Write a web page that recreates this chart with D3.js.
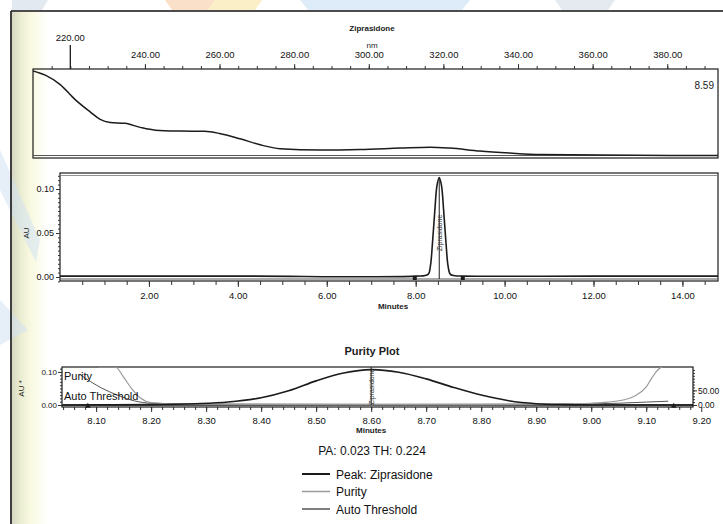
<!DOCTYPE html>
<html>
<head>
<meta charset="utf-8">
<script src="https://cdn.jsdelivr.net/npm/d3@7"></script>
<style>
  body { margin: 0; background: #fff; }
  svg { display: block; font-family: 'Liberation Sans Narrow', 'Liberation Sans', Arial, sans-serif; }
  .tick text { fill: #111; }
  .tick line { stroke: #333; }
</style>
</head>
<body>
<svg></svg>
<script>
// ---- data ----
// UV spectrum at the peak apex (nm, relative absorbance)
const spectrumNm  = [210, 213.3, 217.3, 221.3, 225.4, 228, 230.7, 234.7, 238.7, 242.8, 249.5, 256, 260, 265.5, 270.9, 276.2, 287, 297.6, 308.4, 316.4, 321.7, 329.8, 337.8, 345.8, 361.9, 393.6]
const spectrumAbs = [0.99, 0.94, 0.83, 0.655, 0.51, 0.425, 0.39, 0.38, 0.333, 0.30, 0.29, 0.287, 0.262, 0.2, 0.13, 0.085, 0.069, 0.075, 0.092, 0.103, 0.092, 0.057, 0.034, 0.017, 0.011, 0.006]
const spectrumTicks = [220, 240, 260, 280, 300, 320, 340, 360, 380]
const lambdaMax = 220

// chromatogram (minutes, AU)
const chromMin = [0, 4, 7.98, 8.28, 8.33, 8.38, 8.43, 8.48, 8.53, 8.58, 8.63, 8.68, 8.73, 8.78, 8.88, 9.08, 12, 14.8]
const chromAU  = [0.001, 0.001, 0.001, 0.003, 0.012, 0.040, 0.075, 0.104, 0.113, 0.104, 0.075, 0.040, 0.012, 0.003, 0.0015, 0.001, 0.001, 0.001]
const chromTicks = [2, 4, 6, 8, 10, 12, 14]
const chromYTicks = [0, 0.05, 0.10]
const peakApex = 8.53
const peakMarks = [7.98, 9.06]

// purity plot
const purityMin    = [8.04, 8.2, 8.28, 8.34, 8.4, 8.45, 8.5, 8.55, 8.6, 8.65, 8.7, 8.75, 8.8, 8.85, 8.9, 8.95, 9.0, 9.185]
const purityPeakAU = [0.000, 0.001, 0.004, 0.009, 0.022, 0.043, 0.073, 0.097, 0.107, 0.099, 0.079, 0.053, 0.030, 0.013, 0.004, 0.001, 0.000, 0.000]
const angleMin = [8.105, 8.135, 8.15, 8.165, 8.18, 8.2, 8.25, 8.4, 8.6, 8.8, 8.95, 9.0, 9.03, 9.06, 9.08, 9.1, 9.11, 9.12, 9.13]
const angle    = [130, 130, 95, 55, 25, 8, 3, 2, 1.5, 1.5, 3, 6, 10, 18, 32, 62, 92, 118, 132]
const thresholdMin = [8.07, 8.09, 8.11, 8.14, 8.17, 8.2, 8.3, 8.6, 8.9, 9.0, 9.05, 9.1, 9.14]
const threshold    = [105, 80, 58, 33, 14, 6, 3, 2.5, 3, 4, 6, 10, 13]
const purityTicks = [8.1, 8.2, 8.3, 8.4, 8.5, 8.6, 8.7, 8.8, 8.9, 9.0, 9.1, 9.2]
const purityYTicks = [0, 0.10]
const angleTicks = [0, 50]
const purityApex = 8.6
const purityMarks = [8.085, 9.15]

const PA = '0.023', TH = '0.224'
const legendItems = ['Peak: Ziprasidone', 'Purity', 'Auto Threshold']
const legendColors = ['#1a1a1a', '#9a9a9a', '#555']

// ---- drawing ----
const W = 723, H = 524
const svg = d3.select('svg').attr('width', W).attr('height', H)
const defs = svg.append('defs')
const f2 = d3.format('.2f')
const ink = '#1c1c1c'

// scanned page look: beige strip at the left edge
const grad = defs.append('linearGradient').attr('id', 'strip')
grad.selectAll('stop')
  .data([['0%', '#d6d8c3'], ['25%', '#eceed2'], ['55%', '#f9fae2'], ['100%', '#ffffff']])
  .join('stop').attr('offset', d => d[0]).attr('stop-color', d => d[1])
svg.append('rect').attr('x', 12).attr('y', 12).attr('width', 36).attr('height', H).attr('fill', 'url(#strip)')

// faint watermark shapes
const wm = svg.append('g').attr('opacity', 0.55)
wm.append('polygon').attr('points', '12,0 48,0 42,10 12,10').attr('fill', '#cdd8e4')
wm.append('polygon').attr('points', '165,0 215,0 208,10 172,10').attr('fill', '#f7c89c')
wm.append('polygon').attr('points', '215,0 262,0 255,10 208,10').attr('fill', '#f8e39a')
wm.append('polygon').attr('points', '300,0 470,0 462,10 308,10').attr('fill', '#c4dcf3')
wm.append('polygon').attr('points', '555,0 615,0 608,10 562,10').attr('fill', '#cfd9e6')
wm.append('polygon').attr('points', '0,150 40,240 36,262 0,190').attr('fill', '#d2e2f2')
wm.append('polygon').attr('points', '0,300 28,330 0,345').attr('fill', '#d2e2f2')

// page frame
svg.append('line').attr('x1', 11).attr('x2', W).attr('y1', 11).attr('y2', 11).attr('stroke', '#111').attr('stroke-width', 1.6)
svg.append('line').attr('x1', 11).attr('x2', 11).attr('y1', 11).attr('y2', H).attr('stroke', '#111').attr('stroke-width', 1.6)

function box(g, x0, x1, y0, y1) {
  g.append('rect').attr('x', x0).attr('y', y0).attr('width', x1 - x0).attr('height', y1 - y0)
    .attr('fill', 'none').attr('stroke', ink).attr('stroke-width', 1.2)
}
function clip(id, x0, x1, y0, y1) {
  defs.append('clipPath').attr('id', id).append('rect')
    .attr('x', x0).attr('y', y0).attr('width', x1 - x0).attr('height', y1 - y0)
}
function styleAxis(g, size) {
  g.select('.domain').remove()
  g.selectAll('.tick text').attr('font-size', size)
}

// ===== panel 1: spectrum =====
const p1 = { l: 33, r: 718, t: 69, b: 158 }
const xs = d3.scaleLinear().domain([210, 393.6]).range([p1.l, p1.r])
const ys = d3.scaleLinear().domain([0, 1]).range([156, p1.t + 1])
const g1 = svg.append('g')
clip('c1', p1.l, p1.r, p1.t, p1.b)

g1.append('text').attr('x', 372).attr('y', 31).attr('text-anchor', 'middle')
  .attr('font-size', 8).attr('font-weight', 'bold').attr('fill', ink).text('Ziprasidone')
g1.append('text').attr('x', 372).attr('y', 48).attr('text-anchor', 'middle')
  .attr('font-size', 8).attr('fill', ink).text('nm')

g1.append('g').attr('transform', `translate(0,${p1.t})`)
  .call(d3.axisTop(xs).tickValues(d3.range(215, 394, 5)).tickSize(3).tickFormat(''))
  .call(g => g.select('.domain').remove())
g1.append('g').attr('transform', `translate(0,${p1.t})`)
  .call(d3.axisTop(xs).tickValues(spectrumTicks.filter(d => d !== lambdaMax)).tickSize(5).tickPadding(6).tickFormat(f2))
  .call(g => styleAxis(g, 9.5))
g1.append('line').attr('x1', xs(lambdaMax)).attr('x2', xs(lambdaMax)).attr('y1', 45).attr('y2', p1.t)
  .attr('stroke', ink).attr('stroke-width', 1.3)
g1.append('text').attr('x', xs(lambdaMax)).attr('y', 41).attr('text-anchor', 'middle')
  .attr('font-size', 9.5).attr('fill', '#111').text(f2(lambdaMax))

box(g1, p1.l, p1.r, p1.t, p1.b)
g1.append('line').attr('x1', p1.l).attr('x2', p1.r).attr('y1', p1.b - 2.5).attr('y2', p1.b - 2.5)
  .attr('stroke', '#555').attr('stroke-width', 1)
g1.append('path').datum(spectrumNm.map((d, i) => [d, spectrumAbs[i]]))
  .attr('clip-path', 'url(#c1)')
  .attr('fill', 'none').attr('stroke', ink).attr('stroke-width', 1.5)
  .attr('d', d3.line().x(d => xs(d[0])).y(d => ys(d[1])).curve(d3.curveMonotoneX))
g1.append('text').attr('x', 714).attr('y', 89).attr('text-anchor', 'end')
  .attr('font-size', 10).attr('fill', ink).text('8.59')

// ===== panel 2: chromatogram =====
const p2 = { l: 60, r: 718, t: 173, b: 281 }
const xc = d3.scaleLinear().domain([0, 14.8]).range([p2.l, p2.r])
const yc = d3.scaleLinear().domain([0, 0.10]).range([277, 189])
const g2 = svg.append('g')
clip('c2', p2.l, p2.r, p2.t, p2.b)

box(g2, p2.l, p2.r, p2.t, p2.b)
g2.append('line').attr('x1', p2.l).attr('x2', p2.r).attr('y1', p2.t + 2.5).attr('y2', p2.t + 2.5)
  .attr('stroke', '#777').attr('stroke-width', 0.8)

g2.append('g').attr('transform', `translate(0,${p2.b})`)
  .call(d3.axisBottom(xc).tickValues(d3.range(0.5, 14.8, 0.5)).tickSize(4).tickFormat(''))
  .call(g => g.select('.domain').remove())
g2.append('g').attr('transform', `translate(0,${p2.b})`)
  .call(d3.axisBottom(xc).tickValues(chromTicks).tickSize(6).tickPadding(5).tickFormat(f2))
  .call(g => styleAxis(g, 9.5))
g2.append('text').attr('x', 393).attr('y', 309).attr('text-anchor', 'middle')
  .attr('font-size', 8).attr('font-weight', 'bold').attr('fill', ink).text('Minutes')

g2.append('g').attr('transform', `translate(${p2.l},0)`)
  .call(d3.axisLeft(yc).tickValues(d3.range(-0.005, 0.116, 0.005)).tickSize(2).tickFormat(''))
  .call(g => g.select('.domain').remove())
g2.append('g').attr('transform', `translate(${p2.l},0)`)
  .call(d3.axisLeft(yc).tickValues(chromYTicks).tickSize(4).tickPadding(2).tickFormat(f2))
  .call(g => styleAxis(g, 9))
g2.append('text').attr('transform', `translate(29,${yc(0.05)}) rotate(-90)`).attr('text-anchor', 'middle')
  .attr('font-size', 8).attr('fill', ink).text('AU')

const chromLine = d3.line().x(d => xc(d[0])).y(d => yc(d[1])).curve(d3.curveCatmullRom)
const chromData = chromMin.map((d, i) => [d, chromAU[i]])
g2.append('line').attr('x1', p2.l).attr('x2', p2.r).attr('y1', yc(0) + 2).attr('y2', yc(0) + 2)
  .attr('stroke', '#555').attr('stroke-width', 1)
g2.append('path').datum(chromData).attr('clip-path', 'url(#c2)')
  .attr('fill', 'none').attr('stroke', ink).attr('stroke-width', 1.6).attr('d', chromLine)
g2.append('line').attr('x1', xc(peakApex)).attr('x2', xc(peakApex))
  .attr('y1', yc(d3.max(chromAU))).attr('y2', yc(0) + 2).attr('stroke', ink).attr('stroke-width', 1)
g2.append('text').attr('transform', `translate(${xc(peakApex) + 3},${yc(0.05)}) rotate(-90)`)
  .attr('text-anchor', 'middle').attr('font-size', 7).attr('fill', '#333').text('Ziprasidone')
g2.selectAll('.pm').data(peakMarks).join('rect').attr('class', 'pm')
  .attr('x', d => xc(d) - 2).attr('y', yc(0) - 1).attr('width', 4).attr('height', 4).attr('fill', ink)

// ===== panel 3: purity plot =====
const p3 = { l: 62, r: 693, t: 367, b: 407 }
const xp = d3.scaleLinear().domain([8.038, 9.185]).range([p3.l, p3.r])
const yp = d3.scaleLinear().domain([0, 0.115]).range([405, p3.t])
const ya = d3.scaleLinear().domain([0, 130]).range([405, p3.t])
const g3 = svg.append('g')
clip('c3', p3.l, p3.r, p3.t, p3.b)

g3.append('text').attr('x', 372).attr('y', 355).attr('text-anchor', 'middle')
  .attr('font-size', 11).attr('font-weight', 'bold').attr('fill', ink).text('Purity Plot')

g3.append('g').attr('transform', `translate(0,${p3.b})`)
  .call(d3.axisBottom(xp).tickValues(d3.range(8.04, 9.19, 0.02)).tickSize(3).tickFormat(''))
  .call(g => g.select('.domain').remove())
g3.append('g').attr('transform', `translate(0,${p3.b})`)
  .call(d3.axisBottom(xp).tickValues(purityTicks).tickSize(5).tickPadding(5).tickFormat(f2))
  .call(g => styleAxis(g, 9.5))
g3.append('text').attr('x', xp(8.6)).attr('y', 433).attr('text-anchor', 'middle')
  .attr('font-size', 8).attr('font-weight', 'bold').attr('fill', ink).text('Minutes')

g3.append('g').attr('transform', `translate(${p3.l},0)`)
  .call(d3.axisLeft(yp).tickValues(d3.range(0.01, 0.115, 0.01)).tickSize(2).tickFormat(''))
  .call(g => g.select('.domain').remove())
g3.append('g').attr('transform', `translate(${p3.l},0)`)
  .call(d3.axisLeft(yp).tickValues(purityYTicks).tickSize(4).tickPadding(1).tickFormat(f2))
  .call(g => styleAxis(g, 8))
g3.append('text').attr('transform', `translate(24,${yp(0.05)}) rotate(-90)`).attr('text-anchor', 'middle')
  .attr('font-size', 8).attr('fill', ink).text('AU  *')

g3.append('g').attr('transform', `translate(${p3.r},0)`)
  .call(d3.axisRight(ya).tickValues(d3.range(10, 130, 10)).tickSize(2).tickFormat(''))
  .call(g => g.select('.domain').remove())
g3.append('g').attr('transform', `translate(${p3.r},0)`)
  .call(d3.axisRight(ya).tickValues(angleTicks).tickSize(4).tickPadding(1).tickFormat(f2))
  .call(g => styleAxis(g, 8.5))

box(g3, p3.l, p3.r, p3.t, p3.b)
g3.append('line').attr('x1', p3.l).attr('x2', p3.r).attr('y1', yp(0)).attr('y2', yp(0))
  .attr('stroke', ink).attr('stroke-width', 1.6)

const gc = g3.append('g').attr('clip-path', 'url(#c3)')
gc.append('path').datum(thresholdMin.map((d, i) => [d, threshold[i]]))
  .attr('fill', 'none').attr('stroke', legendColors[2]).attr('stroke-width', 1)
  .attr('d', d3.line().x(d => xp(d[0])).y(d => ya(d[1])).curve(d3.curveMonotoneX))
gc.append('path').datum(angleMin.map((d, i) => [d, angle[i]]))
  .attr('fill', 'none').attr('stroke', legendColors[1]).attr('stroke-width', 1.2)
  .attr('d', d3.line().x(d => xp(d[0])).y(d => ya(d[1])).curve(d3.curveMonotoneX))
gc.append('path').datum(purityMin.map((d, i) => [d, purityPeakAU[i]]))
  .attr('fill', 'none').attr('stroke', ink).attr('stroke-width', 1.6)
  .attr('d', d3.line().x(d => xp(d[0])).y(d => yp(d[1])).curve(d3.curveCatmullRom))
gc.append('line').attr('x1', xp(purityApex)).attr('x2', xp(purityApex)).attr('y1', p3.t).attr('y2', yp(0))
  .attr('stroke', ink).attr('stroke-width', 1)
gc.append('text').attr('transform', `translate(${xp(purityApex) + 3},${yp(0.055)}) rotate(-90)`)
  .attr('text-anchor', 'middle').attr('font-size', 7).attr('fill', '#333').text('Ziprasidone')
g3.selectAll('.qm').data(purityMarks).join('path').attr('class', 'qm')
  .attr('transform', d => `translate(${xp(d)},${yp(0) + 1})`)
  .attr('d', d3.symbol(d3.symbolTriangle, 14)).attr('fill', ink)

g3.append('text').attr('x', 64).attr('y', 380).attr('font-size', 11).attr('fill', '#111').text('Purity')
g3.append('text').attr('x', 64).attr('y', 400).attr('font-size', 11).attr('fill', '#111').text('Auto Threshold')

// ===== footer / legend =====
svg.append('text').attr('x', 372).attr('y', 455).attr('text-anchor', 'middle')
  .attr('font-size', 12).attr('fill', '#111').text(`PA:  ${PA}  TH:  ${TH}`)
const lg = svg.append('g').selectAll('g').data(legendItems).join('g')
  .attr('transform', (d, i) => `translate(302,${474 + i * 17.5})`)
lg.append('line').attr('x1', 0).attr('x2', 28).attr('y1', 0).attr('y2', 0)
  .attr('stroke', (d, i) => legendColors[i]).attr('stroke-width', (d, i) => i === 0 ? 2 : 1.5)
lg.append('text').attr('x', 34).attr('y', 4.5).attr('font-size', 12).attr('fill', '#111').text(d => d)
</script>
</body>
</html>
